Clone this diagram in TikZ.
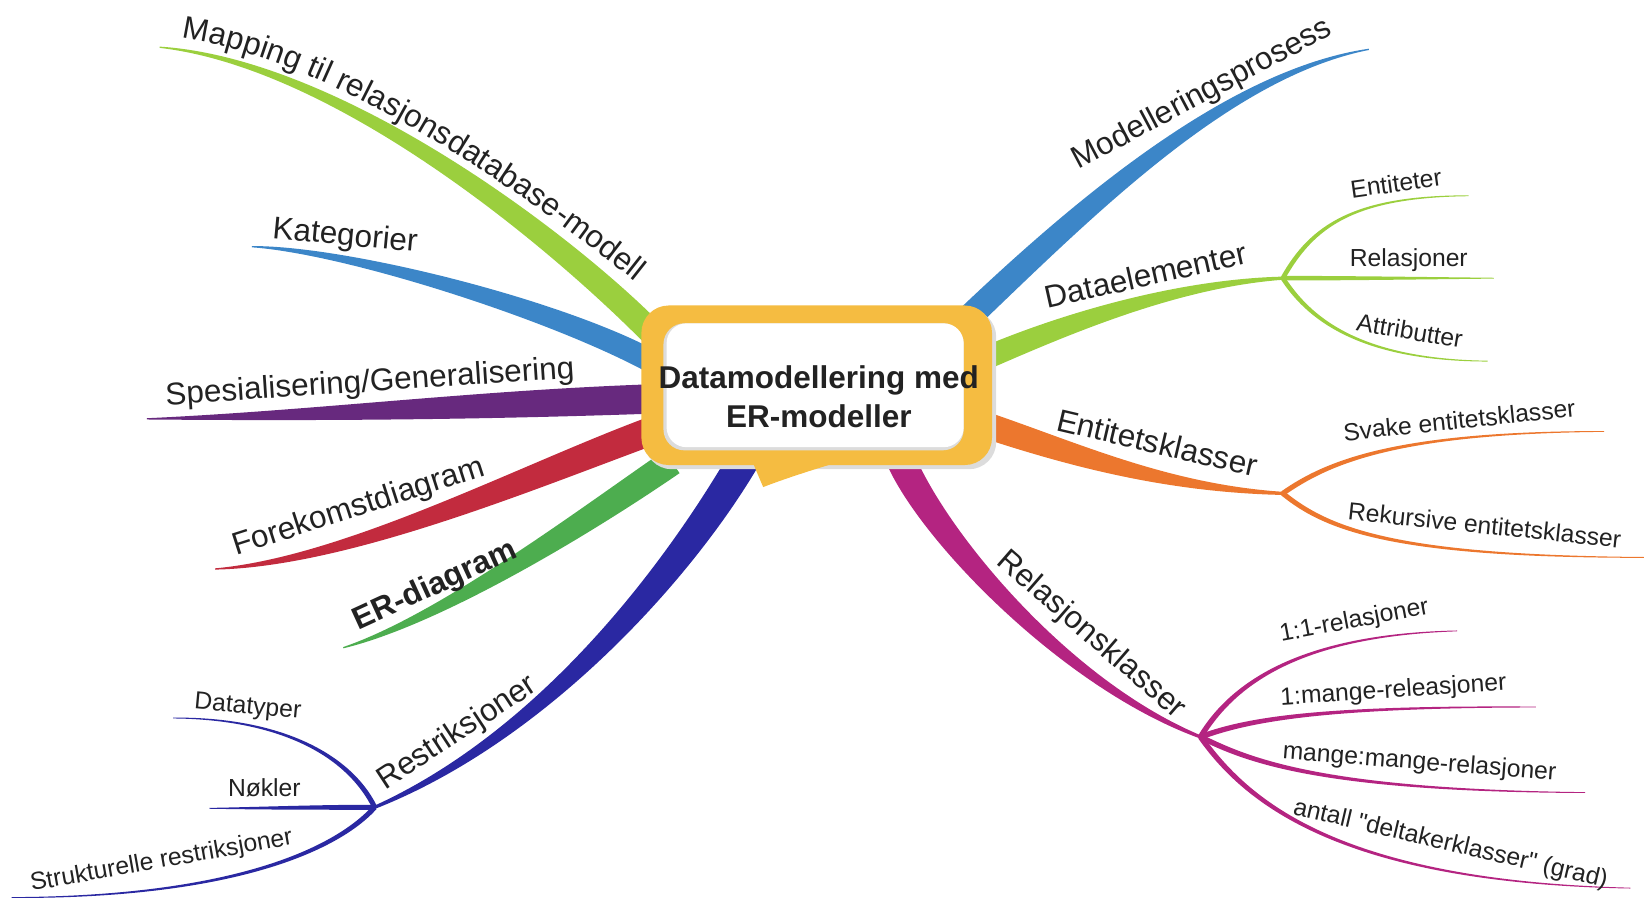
\documentclass[tikz,border=0pt]{standalone}
\usepackage{fontspec}
\setmainfont{Liberation Sans}[Ligatures=TeXOff]
\usetikzlibrary{calc,decorations.text}
\definecolor{txt}{HTML}{222222}
\definecolor{cLgreen}{HTML}{9BCF3E}
\definecolor{cBlue}{HTML}{3C86C8}
\definecolor{cPurple}{HTML}{67297E}
\definecolor{cRed}{HTML}{C22B3E}
\definecolor{cGreen}{HTML}{4DAD4F}
\definecolor{cDblue}{HTML}{2A28A2}
\definecolor{cMagenta}{HTML}{B42481}
\definecolor{cOrange}{HTML}{EC772E}
\definecolor{cYellow}{HTML}{F5BC41}
\definecolor{cShadow}{HTML}{DCDCDC}
\newcommand\mainsz{\fontsize{30}{36}\selectfont}
\newcommand\subsz{\fontsize{23.5}{28}\selectfont}
% tapered branch: colour, start, control 1, control 2, end, half width at start, at control 2, at end
\newcommand\taper[8]{%
  \fill[#1] ($(#2)!#6!90:(#3)$) .. controls ($(#3)!#6!-90:(#2)$) and ($(#4)!#7!90:(#5)$) .. ($(#5)!#8!-90:(#4)$)
    -- ($(#5)!#8!90:(#4)$) .. controls ($(#4)!#7!-90:(#5)$) and ($(#3)!#6!90:(#2)$) .. ($(#2)!#6!-90:(#3)$) -- cycle;}
\tikzset{
  mainlbl/.style={font=\mainsz, text=txt, anchor=base, inner sep=0pt},
  sublbl/.style={font=\subsz, text=txt, anchor=base, inner sep=0pt},
  pathlbl/.style={decorate, decoration={text along path, text color=txt, text={#1}}},
}
\begin{document}
\begin{tikzpicture}[x=1pt,y=-1pt]
\useasboundingbox (0,0) rectangle (1568,872.6);
% ---- named points
\coordinate (mapS) at (622,318);  \coordinate (mapT) at (152,45);
\coordinate (katS) at (622,345);  \coordinate (katT) at (240,235);
\coordinate (speS) at (622,380);  \coordinate (speT) at (140,399);
\coordinate (forS) at (622,410);  \coordinate (forT) at (205,542);
\coordinate (erS)  at (640,440);  \coordinate (erT)  at (327,617);
\coordinate (resS) at (712,432);  \coordinate (resJ) at (357,769);
\coordinate (modS) at (915,310);  \coordinate (modT) at (1304,47);
\coordinate (datS) at (930,345);  \coordinate (datJ) at (1222,265);
\coordinate (entS) at (930,402);  \coordinate (entJ) at (1222,470);
\coordinate (relS) at (855,430);  \coordinate (relJ) at (1143.6,702);
\coordinate (datA) at (1399,186.5); \coordinate (datB) at (1423,265); \coordinate (datC) at (1417,344);
\coordinate (entA) at (1528,411); \coordinate (entB) at (1566,531);
\coordinate (relA) at (1388,601); \coordinate (relB) at (1463,673.5); \coordinate (relC) at (1510,755); \coordinate (relD) at (1553,846);
\coordinate (resA) at (165,684); \coordinate (resB) at (199.5,770); \coordinate (resC) at (11,855);
% ---- main branches
\taper{cLgreen}{mapS}{530,225}{320,60}{mapT}{12pt}{5pt}{0.6pt}
\taper{cBlue}{katS}{530,295}{330,238}{katT}{11pt}{4pt}{0.6pt}
\taper{cPurple}{speS}{450,386}{300,396}{speT}{14pt}{5pt}{0.6pt}
\taper{cRed}{forS}{500,455}{330,535}{forT}{13.5pt}{5pt}{0.6pt}
\taper{cGreen}{erS}{560,495}{420,590}{erT}{13pt}{5pt}{0.6pt}
\taper{cDblue}{resS}{650,540}{520,700}{resJ}{15pt}{6pt}{1.5pt}
\taper{cBlue}{modS}{1030,200}{1170,70}{modT}{12pt}{4pt}{0.6pt}
\taper{cLgreen}{datS}{1010,310}{1120,270}{datJ}{11pt}{4pt}{1.5pt}
\taper{cOrange}{entS}{1020,432}{1110,465}{entJ}{12.5pt}{4pt}{1.5pt}
\taper{cMagenta}{relS}{880,500}{1010,650}{relJ}{14pt}{5pt}{1.5pt}
% ---- sub branches
\taper{cLgreen}{datJ}{1250,215}{1290,187}{datA}{2.2pt}{1.2pt}{0.4pt}
\taper{cLgreen}{datJ}{1280,265}{1350,265}{datB}{2.2pt}{1.2pt}{0.4pt}
\taper{cLgreen}{datJ}{1245,300}{1290,343}{datC}{2.2pt}{1.2pt}{0.4pt}
\taper{cOrange}{entJ}{1265,440}{1330,412}{entA}{2.4pt}{1.3pt}{0.4pt}
\taper{cOrange}{entJ}{1265,505}{1330,530}{entB}{2.4pt}{1.3pt}{0.4pt}
\taper{cMagenta}{relJ}{1175,650}{1240,605}{relA}{2.6pt}{1.4pt}{0.4pt}
\taper{cMagenta}{relJ}{1190,685}{1260,673}{relB}{2.6pt}{1.4pt}{0.4pt}
\taper{cMagenta}{relJ}{1190,725}{1260,753}{relC}{2.6pt}{1.4pt}{0.4pt}
\taper{cMagenta}{relJ}{1185,760}{1270,840}{relD}{2.6pt}{1.4pt}{0.4pt}
\taper{cDblue}{resJ}{330,715}{260,684}{resA}{2.4pt}{1.3pt}{0.4pt}
\taper{cDblue}{resJ}{300,769}{250,770}{resB}{2.4pt}{1.3pt}{0.4pt}
\taper{cDblue}{resJ}{320,810}{220,855}{resC}{2.4pt}{1.3pt}{0.4pt}
% ---- central bubble
\fill[cShadow, rounded corners=26pt] (614,295) rectangle (949,447);
\fill[cYellow, rounded corners=26pt] (611,291) rectangle (945,443);
\fill[cYellow] (716,438) -- (727,464) .. controls (745,457) and (772,448) .. (806,438) -- cycle;
\fill[cShadow, rounded corners=20pt] (632,308) rectangle (918,429);
\fill[white, rounded corners=19pt] (635,308) rectangle (918,426);
\node[font=\bfseries\fontsize{30}{37}\selectfont, text=txt, align=center, inner sep=0pt] (hub) at (780,378) {Datamodellering med\\ER-modeller};
% ---- labels of main branches
\path[pathlbl={|\mainsz|Mapping til relasjonsdatabase-modell}] (173,36) .. controls (300,55) and (460,150) .. (630,288);
\node[mainlbl, rotate=-5.4] (kat) at (328,233.5) {Kategorier};
\node[mainlbl, rotate=3.8] (spe) at (353,373) {Spesialisering/Generalisering};
\node[mainlbl, rotate=17.8] (for) at (344,491) {Forekomstdiagram};
\node[mainlbl, font=\mainsz\bfseries, rotate=24.6] (erd) at (417.8,565.5) {ER-diagram};
\node[mainlbl, rotate=33.2] (res) at (440,705) {Restriksjoner};
\node[mainlbl, rotate=28] (mod) at (1149,97) {Modelleringsprosess};
\node[mainlbl, rotate=12.6] (dat) at (1093.6,272.5) {Dataelementer};
\node[mainlbl, rotate=-13.2] (ent) at (1100,432) {Entitetsklasser};
\node[mainlbl, rotate=-41] (rel) at (1034,611) {Relasjonsklasser};
% ---- labels of sub branches
\node[sublbl, rotate=8.1] (lEnt) at (1331,182.7) {Entiteter};
\node[sublbl] (lRel) at (1342,254) {Relasjoner};
\node[sublbl, rotate=-9.6] (lAtt) at (1341.5,323.3) {Attributter};
\node[sublbl, rotate=6] (lSv) at (1391,408.5) {Svake entitetsklasser};
\node[sublbl, rotate=-6] (lRek) at (1413.5,508.5) {Rekursive entitetsklasser};
\node[sublbl, rotate=10.7] (lOne) at (1291.3,598) {1:1-relasjoner};
\node[sublbl, rotate=3.8] (lOneM) at (1327.8,664.7) {1:mange-releasjoner};
\node[sublbl, rotate=-4.5] (lMM) at (1351.7,733) {mange:mange-relasjoner};
\node[sublbl, rotate=-13.2] (lAnt) at (1380.3,810.5) {antall "deltakerklasser" (grad)};
\node[sublbl, rotate=-5.3] (lDt) at (235.5,679.8) {Datatyper};
\node[sublbl] (lNk) at (251.8,759.2) {Nøkler};
\node[sublbl, rotate=10.1] (lStr) at (155,826.5) {Strukturelle restriksjoner};
\end{tikzpicture}
\end{document}
